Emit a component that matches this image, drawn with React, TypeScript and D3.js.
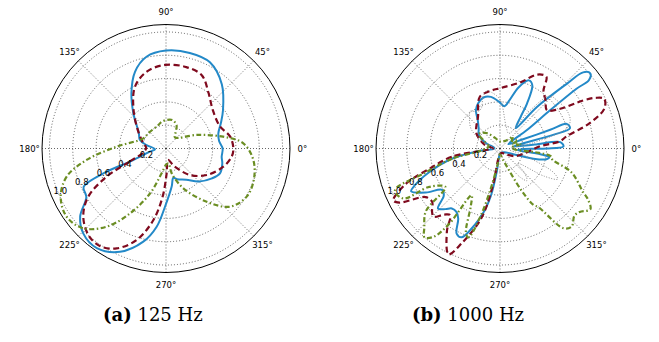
import React from 'react';
import * as d3 from 'd3';

type Pt = [number, number]; // [angle in degrees, radius]

const thetaTicks = [0, 45, 90, 135, 180, 225, 270, 315];
const rTicks = [0.2, 0.4, 0.6, 0.8, 1.0];
const R_MAX = 1.064;

// (a) 125 Hz
const blue125: Pt[] = [
  [-176, 0.095], [-168, 0.15], [-164, 0.2], [-160, 0.33], [-158.6, 0.55], [-155, 0.78], [-148.7, 0.8],
  [-141.6, 0.94], [-134.3, 1.017], [-124.8, 1.04], [-114, 0.97], [-103.7, 0.823], [-96.8, 0.676],
  [-91, 0.5], [-81.5, 0.33], [-76, 0.26], [-70, 0.28], [-57, 0.32], [-45, 0.4], [-33, 0.47],
  [-24.7, 0.51], [-15, 0.5], [-8.5, 0.483], [0, 0.486], [8, 0.46], [16, 0.467], [25, 0.52],
  [34, 0.59], [49, 0.73], [63, 0.83], [76, 0.845], [90, 0.84], [102, 0.805], [112, 0.71],
  [122, 0.56], [133, 0.41], [150, 0.27], [162, 0.235], [170, 0.17],
];
const red125: Pt[] = [
  [-169.5, 0.2], [-160, 0.34], [-154.6, 0.564], [-148.2, 0.785], [-140.5, 0.92], [-131.4, 1.0],
  [-123.9, 1.01], [-116.3, 0.956], [-107.8, 0.825], [-100, 0.623], [-94, 0.414], [-88.5, 0.213],
  [-80, 0.1], [-65.4, 0.165], [-47.8, 0.307], [-33, 0.417], [-17.6, 0.516], [-7, 0.568], [0, 0.578],
  [10.5, 0.56], [22.6, 0.5], [39.5, 0.52], [52.5, 0.6], [64, 0.7], [76, 0.72], [90.7, 0.717],
  [104, 0.68], [116.6, 0.594], [130, 0.433], [148.7, 0.278], [167, 0.2], [178, 0.17],
];
const green125: Pt[] = [
  [-171.8, 0.688], [-164.2, 0.886], [-155.4, 0.994], [-145.5, 1.034], [-136, 0.986], [-127.2, 0.842],
  [-119, 0.636], [-109.6, 0.41], [-100, 0.216], [-90, 0.14], [-81, 0.129], [-77, 0.219],
  [-66.5, 0.373], [-52.6, 0.575], [-42.3, 0.742], [-30.8, 0.806], [-19.7, 0.8], [-7.5, 0.756],
  [3.8, 0.665], [11.7, 0.5], [23.8, 0.288], [51, 0.123], [60, 0.167], [65.6, 0.22], [77, 0.25],
  [88.7, 0.245], [100, 0.23], [108, 0.212], [139, 0.2], [155.8, 0.213], [177.9, 0.424],
];

// (b) 1000 Hz
const blue1000: Pt[] = [
  [-178, 0.05], [-173, 0.19], [-168, 0.423], [-161.4, 0.645], [-156.5, 0.8], [-154.3, 0.846],
  [-149.3, 0.74], [-144.5, 0.61], [-140, 0.63], [-136, 0.74], [-132, 0.7], [-128.8, 0.66],
  [-124.5, 0.66], [-120.8, 0.7], [-117, 0.82], [-113.4, 0.83], [-108.3, 0.69], [-104, 0.55],
  [-101, 0.42], [-98, 0.2], [-95, 0.06], [-80, 0.04], [-40, 0.05], [-25, 0.1], [-17, 0.3],
  [-13, 0.41], [-10, 0.43], [-8, 0.35], [-5, 0.15], [-1, 0.2], [0, 0.4], [2, 0.545], [6, 0.52],
  [6.5, 0.3], [8, 0.12], [12, 0.18], [14.4, 0.47], [16.2, 0.625], [20.3, 0.61], [20.4, 0.46],
  [22, 0.2], [28, 0.08], [34.5, 0.284], [37.4, 0.543], [38, 0.833], [37.6, 0.964], [39.8, 1.008],
  [42.5, 0.967], [44.1, 0.797], [48.3, 0.48], [52.3, 0.22], [57, 0.33], [59, 0.45], [63, 0.61],
  [67, 0.635], [73, 0.55], [79, 0.42], [84, 0.365], [91, 0.4], [100, 0.45], [108, 0.46],
  [116, 0.43], [122, 0.39], [128, 0.31], [137, 0.25], [147, 0.216], [160, 0.12], [172, 0.05],
];
const red1000: Pt[] = [
  [-175, 0.1], [-170.3, 0.42], [-163.8, 0.637], [-159.4, 0.864], [-154, 1.018], [-151.7, 0.98],
  [-146.9, 0.763], [-142, 0.74], [-137, 0.797], [-134.2, 0.817], [-130, 0.74], [-126.8, 0.714],
  [-122.6, 0.846], [-115.9, 1.01], [-112, 0.876], [-105, 0.62], [-101, 0.324], [-95, 0.06],
  [-70, 0.04], [-45, 0.07], [-25.7, 0.15], [-7.6, 0.235], [3.2, 0.345], [6.8, 0.516], [10.3, 0.58],
  [15.8, 0.8], [21, 0.96], [25.5, 0.99], [27.9, 0.93], [30, 0.824], [34, 0.6], [39.3, 0.52],
  [46.8, 0.57], [53, 0.62], [57.2, 0.734], [63.3, 0.71], [72.7, 0.596], [89, 0.52], [100, 0.5],
  [111.5, 0.475], [124.6, 0.332], [147, 0.242], [165.7, 0.137], [178, 0.06],
];
const green1000: Pt[] = [
  [-175, 0.15], [-168, 0.42], [-162, 0.68], [-158.3, 0.97], [-152.7, 0.935], [-151.5, 0.69],
  [-144.8, 0.573], [-139.7, 0.835], [-133.7, 0.94], [-130.4, 1.0], [-127, 0.95], [-124, 0.78],
  [-121.3, 0.47], [-117, 0.55], [-112, 0.78], [-109.5, 0.81], [-106, 0.6], [-103, 0.35],
  [-99, 0.15], [-90, 0.05], [-75, 0.1], [-63, 0.4], [-59.3, 0.564], [-56.8, 0.6], [-51.5, 0.874],
  [-47.5, 0.909], [-42, 0.86], [-38.5, 0.874], [-33.9, 0.934], [-30, 0.87], [-27.7, 0.805],
  [-18.5, 0.648], [-12, 0.46], [-8.5, 0.44], [-6, 0.3], [-3, 0.12], [5, 0.1], [12, 0.18],
  [18, 0.12], [25, 0.17], [33, 0.12], [42, 0.15], [55, 0.08], [90, 0.06], [115, 0.1],
  [130, 0.17], [140, 0.21], [146, 0.22], [155, 0.15], [168, 0.1],
];
const gray1000: Pt[] = [
  [-95, 0.05], [-70, 0.1], [-55, 0.3], [-50, 0.36], [-45, 0.3], [-40, 0.2], [-32, 0.45],
  [-28, 0.56], [-24, 0.5], [-15, 0.2], [-5, 0.08], [10, 0.3], [17, 0.6], [22, 0.65], [30, 0.66],
  [40, 0.64], [46.6, 0.62], [52, 0.4], [60, 0.15], [75, 0.2], [90, 0.42], [99, 0.49], [103, 0.51],
  [108, 0.47], [115, 0.38], [121, 0.37], [129, 0.41], [135, 0.37], [140, 0.34], [147, 0.29],
  [160, 0.15], [175, 0.05], [-150, 0.04],
];

const RADIUS = 124;

const lineStyles = {
  blue: { stroke: '#2389c8', width: 2, dash: undefined as string | undefined },
  red: { stroke: '#7f0a1e', width: 2.2, dash: '6,3.5' },
  green: { stroke: '#6b8e23', width: 2.2, dash: '5,2.5,1.5,2.5' },
  gray: { stroke: '#8f8f8f', width: 1, dash: '1,1.6' },
};

interface Series {
  data: Pt[];
  style: keyof typeof lineStyles;
}

const Polar: React.FC<{ cx: number; cy: number; series: Series[] }> = ({ cx, cy, series }) => {
  const r = d3.scaleLinear().domain([0, R_MAX]).range([0, RADIUS]);
  const rad = (deg: number) => (deg * Math.PI) / 180;
  const line = d3
    .lineRadial<Pt>()
    .angle(d => rad(90 - d[0]))
    .radius(d => r(d[1]))
    .curve(d3.curveCatmullRomClosed.alpha(0.5));

  const labelR = RADIUS * 1.1;
  const rLabelAngle = rad(202.5);

  return (
    <g transform={`translate(${cx},${cy})`}>
      {/* grid */}
      {rTicks.map(t => (
        <circle key={t} r={r(t)} fill="none" stroke="#222" strokeWidth={0.7} strokeDasharray="1,2" />
      ))}
      {thetaTicks.map(t => (
        <line
          key={t}
          x1={0}
          y1={0}
          x2={RADIUS * Math.cos(rad(t))}
          y2={-RADIUS * Math.sin(rad(t))}
          stroke="#222"
          strokeWidth={0.7}
          strokeDasharray="1,2"
        />
      ))}

      {/* series */}
      {series.map((s, i) => {
        const st = lineStyles[s.style];
        return (
          <path
            key={i}
            d={line(s.data) || ''}
            fill="none"
            stroke={st.stroke}
            strokeWidth={st.width}
            strokeDasharray={st.dash}
            strokeLinejoin="round"
          />
        );
      })}

      <circle r={RADIUS} fill="none" stroke="#000" strokeWidth={1} />

      {/* angle labels */}
      {thetaTicks.map(t => (
        <text
          key={t}
          x={labelR * Math.cos(rad(t))}
          y={-labelR * Math.sin(rad(t))}
          textAnchor="middle"
          dominantBaseline="central"
          fontSize={8.5}
          fontFamily="DejaVu Sans, sans-serif"
        >
          {`${t}°`}
        </text>
      ))}

      {/* radial labels */}
      {rTicks.map(t => (
        <text
          key={t}
          x={r(t) * Math.cos(rLabelAngle) + 2}
          y={-r(t) * Math.sin(rLabelAngle) - 2}
          textAnchor="middle"
          dominantBaseline="central"
          fontSize={8.5}
          fontFamily="DejaVu Sans, sans-serif"
        >
          {t.toFixed(1)}
        </text>
      ))}
    </g>
  );
};

const App: React.FC = () => {
  return (
    <svg
      width={659}
      height={342}
      style={{ position: 'absolute', left: 0, top: 0, background: '#fff' }}
    >
      <Polar
        cx={166}
        cy={148.5}
        series={[
          { data: blue125, style: 'blue' },
          { data: red125, style: 'red' },
          { data: green125, style: 'green' },
        ]}
      />
      <Polar
        cx={500}
        cy={148.5}
        series={[
          { data: blue1000, style: 'blue' },
          { data: red1000, style: 'red' },
          { data: green1000, style: 'green' },
          { data: gray1000, style: 'gray' },
        ]}
      />
      <text x={103} y={321} fontSize={18} fontFamily="DejaVu Serif, serif">
        <tspan fontWeight="bold">(a)</tspan> 125 Hz
      </text>
      <text x={412} y={321} fontSize={18} fontFamily="DejaVu Serif, serif">
        <tspan fontWeight="bold">(b)</tspan> 1000 Hz
      </text>
    </svg>
  );
};

export default App;
